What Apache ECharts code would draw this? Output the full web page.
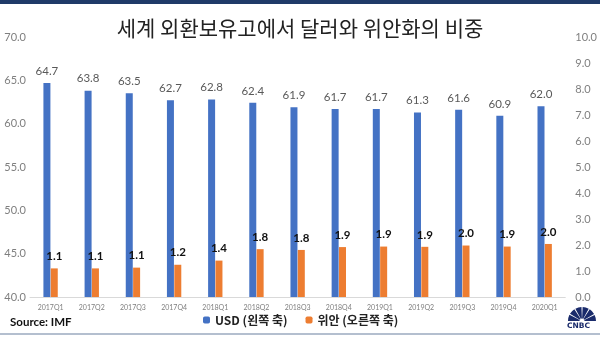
<!DOCTYPE html>
<html><head><meta charset="utf-8">
<script src="https://cdn.jsdelivr.net/npm/echarts@6/dist/echarts.min.js"></script>
<style>html,body{margin:0;padding:0;background:#fff}#c{width:600px;height:337px}</style>
</head><body><div id="c"></div>
<script>
const categories = ['2017Q1','2017Q2','2017Q3','2017Q4','2018Q1','2018Q2','2018Q3','2018Q4','2019Q1','2019Q2','2019Q3','2019Q4','2020Q1'];
const usdShare = [64.7,63.8,63.5,62.7,62.8,62.4,61.9,61.7,61.7,61.3,61.6,60.9,62.0];
const cnyShare = [1.10,1.10,1.13,1.24,1.40,1.84,1.81,1.92,1.94,1.93,1.98,1.94,2.04];
const titleText = '세계 외환보유고에서 달러와 위안화의 비중';
const usdName = 'USD (왼쪽 축)';
const cnyName = '위안 (오른쪽 축)';
const sourceText = 'Source: IMF';

const chart = echarts.init(document.getElementById('c'), null, {renderer:'canvas'});
const axisFont = {color:'#7f7f7f', fontSize:11, fontFamily:'Lato, "Noto Sans", sans-serif'};
const navy = '#1a2b6b';
const petals = [];
for (let i = 0; i < 6; i++) {
  const a0 = Math.PI * (1.0 + i * 0.1715), a1 = a0 + Math.PI * 0.145;
  petals.push({type:'sector', shape:{cx:15, cy:14, r0:2.5, r:14, startAngle:a0, endAngle:a1}, style:{fill:navy}});
}
petals.push({type:'text', left:0, top:15, style:{text:'CNBC', fontSize:7.5, fontWeight:'bold', fill:navy, fontFamily:'"DejaVu Sans", sans-serif'}});
chart.setOption({
  animation:false,
  backgroundColor:'#fff',
  title:{text:titleText, left:'center', top:13,
    textStyle:{fontSize:21, fontWeight:'normal', color:'#222', fontFamily:'"Noto Sans CJK KR", sans-serif'}},
  grid:{left:30, right:34, top:37, bottom:40, containLabel:false},
  legend:{bottom:6, left:198, itemWidth:7, itemHeight:7, itemGap:18,
    textStyle:{fontSize:12, color:'#222', fontFamily:'"Noto Sans CJK KR", sans-serif', fontWeight:'bold'},
    data:[usdName, cnyName]},
  xAxis:{type:'category', data:categories,
    axisLine:{lineStyle:{color:'#d9d9d9'}}, axisTick:{show:false},
    axisLabel:{color:'#7f7f7f', fontSize:7, margin:7, fontFamily:'Lato, sans-serif'}},
  yAxis:[
    {type:'value', min:40, max:70, interval:5, splitLine:{show:false},
     axisLabel:Object.assign({formatter:v=>v.toFixed(1), margin:4}, axisFont),
     axisLine:{show:false}, axisTick:{show:false}, position:'left'},
    {type:'value', min:0, max:10, interval:1, splitLine:{show:false},
     axisLabel:Object.assign({formatter:v=>v.toFixed(1), margin:10}, axisFont),
     axisLine:{show:false}, axisTick:{show:false}, position:'right'}
  ],
  series:[
    {name:usdName, type:'bar', data:usdShare, yAxisIndex:0, barWidth:7, barGap:'5%',
     itemStyle:{color:'#4472c4'},
     label:{show:true, position:'top', distance:6, color:'#595959', fontSize:11.5,
       fontFamily:'Lato, "Noto Sans", sans-serif', formatter:p=>p.value.toFixed(1)}},
    {name:cnyName, type:'bar', data:cnyShare, yAxisIndex:1, barWidth:7,
     itemStyle:{color:'#ed7d31'},
     label:{show:true, position:'top', distance:6, color:'#111', fontSize:11.5, fontWeight:'bold',
       fontFamily:'Lato, "Noto Sans", sans-serif', formatter:p=>p.value.toFixed(1)}}
  ],
  graphic:[
    {type:'rect', left:0, top:0, shape:{width:600, height:4}, style:{fill:'#1f3a68'}},
    {type:'rect', left:0, top:333, shape:{width:600, height:2}, style:{fill:'#b4bfcf'}},
    {type:'text', left:10, top:316, style:{text:sourceText, fontSize:11.5, fontWeight:'bold', fill:'#111', fontFamily:'Lato, sans-serif'}},
    {type:'group', left:567, top:307, children:petals}
  ]
});
</script></body></html>
